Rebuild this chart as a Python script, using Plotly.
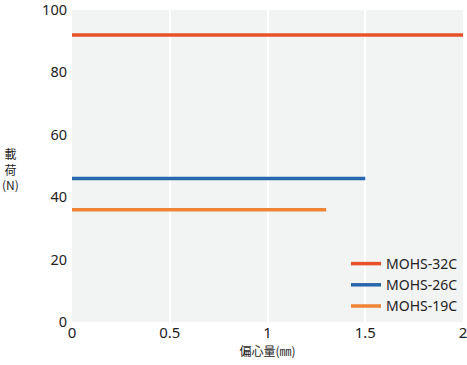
import plotly.graph_objects as go

series_names = ["MOHS-32C", "MOHS-26C", "MOHS-19C"]
series_x = [[0, 2], [0, 1.5], [0, 1.3]]
series_y = [[92, 92], [46, 46], [36, 36]]
colors = ["#e8502a", "#2767ad", "#ef8434"]
x_ticks = [0, 0.5, 1, 1.5, 2]
x_tick_labels = ["0", "0.5", "1", "1.5", "2"]
y_ticks = [0, 20, 40, 60, 80, 100]

fig = go.Figure()
for name, xs, ys, c in zip(series_names, series_x, series_y, colors):
    fig.add_trace(go.Scatter(x=xs, y=ys, mode="lines", name=name,
                             line=dict(color=c, width=3.5)))

font = "Noto Sans"
cjk = "Noto Sans CJK JP"
fig.update_layout(
    width=467, height=365,
    margin=dict(l=72, r=4, t=10, b=43, autoexpand=False),
    paper_bgcolor="white", plot_bgcolor="#f2f3f3",
    font=dict(family=font, size=14, color="#222"),
    showlegend=True,
    legend=dict(x=1, y=0, xanchor="right", yanchor="bottom",
                bgcolor="rgba(0,0,0,0)", font=dict(size=14, family=font),
                itemwidth=30, tracegroupgap=0),
    xaxis=dict(range=[0, 2], tickvals=x_ticks, ticktext=x_tick_labels,
               showgrid=True, gridcolor="white", gridwidth=2, automargin=False,
               zeroline=False, showline=False, ticks="", ticklabeloverflow="allow",
               tickfont=dict(size=15),
               title=dict(text="偏心量(㎜)", font=dict(size=12, family=cjk), standoff=2)),
    yaxis=dict(range=[0, 100], tickvals=y_ticks, showgrid=False, automargin=False,
               zeroline=False, showline=False, ticks="", ticklabelstandoff=4,
               ticklabeloverflow="allow", tickfont=dict(size=14.5)),
    annotations=[dict(text="載<br>荷<br>(N)", xref="paper", yref="paper",
                      x=-0.158, y=0.49, xanchor="center", yanchor="middle",
                      align="center", showarrow=False, font=dict(size=12, family=cjk))]
)
fig.write_html("out.html", config={"displayModeBar": False},
               post_script="document.body.style.margin='0';")
